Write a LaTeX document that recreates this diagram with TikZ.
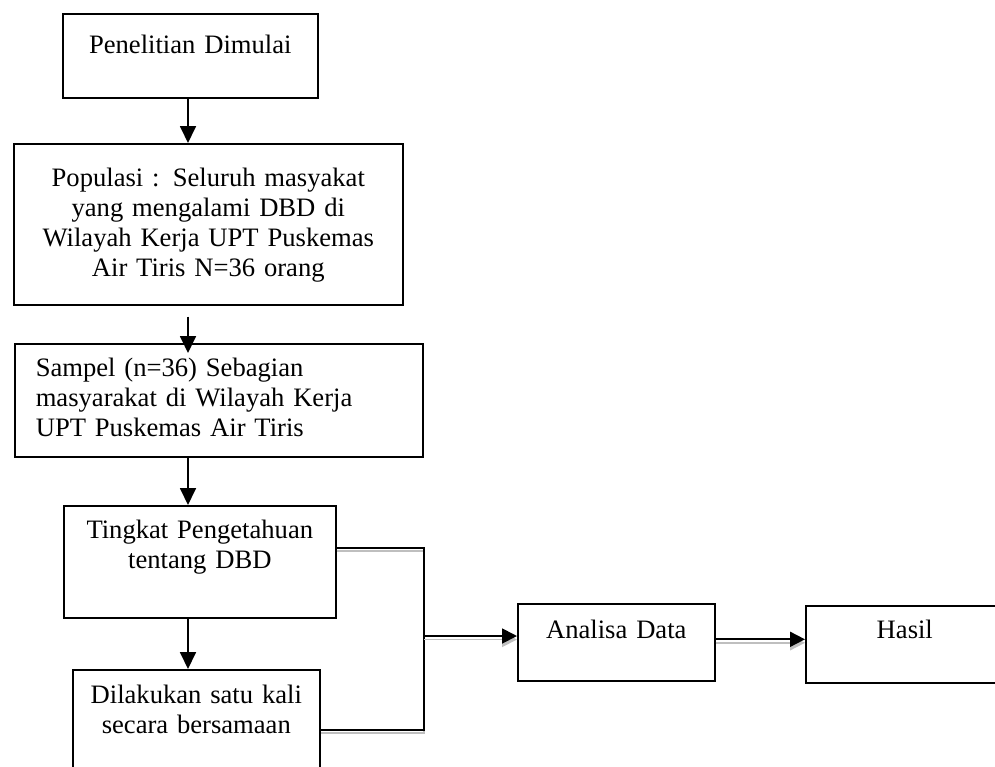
\documentclass[tikz,border=0pt]{standalone}
\usepackage{fontspec}
\setmainfont{Liberation Serif}
\usetikzlibrary{arrows.meta}
\begin{document}
\begin{tikzpicture}[x=1pt, y=1pt, font=\fontsize{26.6}{30}\selectfont,
        box/.style={draw, line width=1.6pt, inner xsep=4pt, inner ysep=0pt, align=center, anchor=north west},
        >={Triangle[length=17pt, width=16pt]},
        arr/.style={->, line width=1.8pt},
        link/.style={line width=1.8pt, preaction={draw, gray!50, line width=1.8pt, transform canvas={yshift=-3.5pt}}}]
        \useasboundingbox (0,0) rectangle (995,-766);
        \node[box, text width=247pt, text height=40pt, text depth=44pt] (start) at (62,-13) {Penelitian Dimulai};
        \node[box, text width=381pt, text height=43pt, text depth=118pt] (pop) at (13,-143) {Populasi : Seluruh masyakat\\ yang mengalami DBD di\\ Wilayah Kerja UPT Puskemas\\ Air Tiris N=36 orang};
        \node[box, align=left, inner xsep=21pt, text width=366pt, text height=33pt, text depth=80pt] (sample) at (14,-343) {Sampel (n=36) Sebagian\\ masyarakat di Wilayah Kerja\\ UPT Puskemas Air Tiris};
        \node[box, text width=264pt, text height=33pt, text depth=79pt] (know) at (63,-505) {Tingkat Pengetahuan\\ tentang DBD};
        \node[box, text width=239pt, text height=34pt, text depth=76pt] (once) at (72,-669) {Dilakukan satu kali\\ secara bersamaan};
        \node[box, text width=189pt, text height=35pt, text depth=42pt] (analysis) at (517,-603) {Analisa Data};
        \node[box, text width=190pt, text height=33pt, text depth=44pt] (result) at (805,-605) {Hasil};
        \coordinate (col) at (188,0);
        \coordinate (merge) at (424,-636);
        % alur utama
        \draw[arr] (start.south -| col) -- (pop.north -| col);
        \draw[arr] ([yshift=-11pt]pop.south -| col) -- ([yshift=-10pt]sample.north -| col);
        \draw[arr] (sample.south -| col) -- (know.north -| col);
        \draw[arr] (know.south -| col) -- (once.north -| col);
        % gabungan ke analisa
        \draw[link] ([yshift=14pt]know.east) -| (merge) |- ([yshift=-5pt]once.east);
        \draw[link, -{Triangle[length=15pt, width=15pt]}] (merge) -- (merge -| analysis.west);
        \draw[link, -{Triangle[length=15pt, width=15pt]}] ([yshift=3pt]analysis.east) -- ([yshift=3pt]analysis.east -| result.west);
\end{tikzpicture}
\end{document}
